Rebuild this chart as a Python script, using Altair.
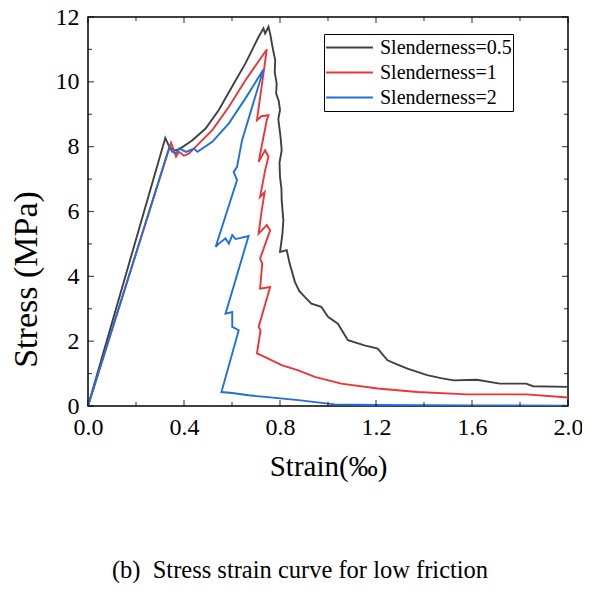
import altair as alt
import pandas as pd

# ---- data ----
black_strain = [0, 0.322, 0.339, 0.360, 0.380, 0.435, 0.490, 0.545, 0.600, 0.656, 0.711, 0.731, 0.738, 0.752,
                0.760, 0.766, 0.772, 0.780, 0.778, 0.786, 0.784, 0.795, 0.800, 0.793, 0.797, 0.803, 0.807, 0.798,
                0.800, 0.806, 0.807, 0.814, 0.810, 0.800, 0.828, 0.840, 0.862, 0.880, 0.905, 0.931, 0.972, 1.000,
                1.041, 1.083, 1.152, 1.207, 1.248, 1.290, 1.331, 1.413, 1.470, 1.524, 1.620, 1.716, 1.826, 1.854, 2.000]
black_stress = [0, 8.27, 7.99, 7.88, 7.92, 8.20, 8.56, 9.13, 9.85, 10.57, 11.39, 11.65, 11.49, 11.70,
                11.45, 11.19, 10.95, 10.67, 10.30, 9.95, 9.64, 9.40, 9.13, 8.85, 8.61, 8.25, 7.89, 7.50,
                7.07, 6.70, 6.35, 5.73, 5.30, 4.75, 4.81, 4.40, 3.83, 3.55, 3.35, 3.16, 3.06, 2.75,
                2.54, 2.03, 1.87, 1.77, 1.41, 1.28, 1.15, 0.95, 0.86, 0.79, 0.81, 0.69, 0.69, 0.61, 0.59]

red_strain = [0, 0.346, 0.367, 0.380, 0.400, 0.421, 0.463, 0.518, 0.587, 0.656, 0.745, 0.704, 0.723, 0.752,
              0.745, 0.711, 0.738, 0.752, 0.738, 0.717, 0.736, 0.724, 0.711, 0.745, 0.759, 0.717, 0.726, 0.717,
              0.759, 0.711, 0.719, 0.704, 0.738, 0.807, 0.876, 0.945, 1.055, 1.207, 1.372, 1.579, 1.826, 2.000]
red_stress = [0, 8.12, 7.69, 7.84, 7.72, 7.79, 8.10, 8.51, 9.23, 10.05, 11.00, 8.82, 8.94, 8.97,
              8.82, 7.53, 7.89, 7.69, 7.27, 6.45, 6.60, 6.04, 5.32, 5.58, 5.42, 4.55, 4.40, 3.62,
              3.67, 2.44, 2.34, 1.62, 1.51, 1.26, 1.10, 0.90, 0.69, 0.54, 0.43, 0.36, 0.36, 0.26]

blue_strain = [0, 0.339, 0.350, 0.367, 0.380, 0.408, 0.442, 0.456, 0.518, 0.587, 0.656, 0.731, 0.642, 0.621,
               0.607, 0.621, 0.532, 0.545, 0.573, 0.587, 0.601, 0.615, 0.669, 0.573, 0.601, 0.601, 0.628,
               0.556, 0.601, 0.669, 0.738, 0.876, 1.028, 1.200, 1.600, 2.000]
blue_stress = [0, 7.99, 7.85, 7.79, 7.95, 7.84, 7.94, 7.84, 8.15, 8.72, 9.49, 10.38, 8.20, 7.38,
               7.22, 6.97, 4.91, 5.01, 5.17, 5.01, 5.27, 5.15, 5.24, 2.85, 2.90, 2.44, 2.34,
               0.43, 0.40, 0.33, 0.28, 0.18, 0.05, 0.03, 0.02, 0.01]

series_names = ["Slenderness=0.5", "Slenderness=1", "Slenderness=2"]
series_colors = ["#404040", "#EE3535", "#1F6FDF"]

x_major = [0.0, 0.4, 0.8, 1.2, 1.6, 2.0]
x_minor = [0.2, 0.6, 1.0, 1.4, 1.8]
y_major = [0, 2, 4, 6, 8, 10, 12]
y_minor = [1, 3, 5, 7, 9, 11]

caption = "(b)\u00a0\u00a0Stress strain curve for low friction"

# ---- build tables ----
rows = []
for name, xs, ys in zip(series_names,
                        [black_strain, red_strain, blue_strain],
                        [black_stress, red_stress, blue_stress]):
    for i, (a, b) in enumerate(zip(xs, ys)):
        rows.append({"strain": a, "stress": b, "series": name, "i": i})
df = pd.DataFrame(rows)

W, H = 480, 389
FONT = "Liberation Serif"

xscale = alt.Scale(domain=[0, 2], nice=False, zero=False)
yscale = alt.Scale(domain=[0, 12], nice=False, zero=False)

xaxis = alt.Axis(values=x_major, format=".1f", ticks=False, domain=False, grid=False,
                 labelFlush=False, labelOverlap=False, labelPadding=9, labelFontSize=24,
                 title="Strain(‰)", titleFontSize=29, titlePadding=13)
yaxis = alt.Axis(values=y_major, format="d", ticks=False, domain=False, grid=False,
                 labelOverlap=False, labelPadding=9, labelFontSize=24,
                 title="Stress (MPa)", titleFontSize=34, titleX=-45, titleY=262)

lines = alt.Chart(df).mark_line(strokeWidth=1.9, clip=True).encode(
    x=alt.X("strain:Q", scale=xscale, axis=xaxis),
    y=alt.Y("stress:Q", scale=yscale, axis=yaxis),
    color=alt.Color("series:N",
                    scale=alt.Scale(domain=series_names, range=series_colors),
                    legend=alt.Legend(title=None, orient="none", legendX=236, legendY=17,
                                      strokeColor="black", fillColor="white", padding=1,
                                      symbolType="stroke", symbolSize=2200, symbolStrokeWidth=2,
                                      labelFont=FONT, labelFontSize=20, labelColor="black",
                                      labelOffset=6, clipHeight=25, rowPadding=0)),
    order="i:Q",
)


def tick_layer(values, channel, pos, size):
    if channel == "x":
        d = pd.DataFrame({"strain": values})
        enc = dict(x=alt.X("strain:Q", scale=xscale, axis=xaxis), y=alt.value(pos))
    else:
        d = pd.DataFrame({"stress": values})
        enc = dict(y=alt.Y("stress:Q", scale=yscale, axis=yaxis), x=alt.value(pos))
    return alt.Chart(d).mark_tick(color="black", thickness=1.2, size=size).encode(**enc)


ticks = [
    tick_layer(x_major, "x", H - 3, 6), tick_layer(x_minor, "x", H - 2, 4),
    tick_layer(x_major, "x", 3, 6), tick_layer(x_minor, "x", 2, 4),
    tick_layer(y_major, "y", 3, 6), tick_layer(y_minor, "y", 2, 4),
    tick_layer(y_major, "y", W - 3, 6), tick_layer(y_minor, "y", W - 2, 4),
]

chart = alt.layer(lines, *ticks).properties(
    width=W, height=H,
    autosize=alt.AutoSizeParams(type="none"),
    padding={"left": 80, "top": 9, "right": 14, "bottom": 177},
    title=alt.TitleParams(caption, orient="bottom", anchor="middle", offset=78, dx=-28,
                          fontSize=24.5, font=FONT, fontWeight="normal", color="black"),
).configure(
    font=FONT,
).configure_view(
    stroke="black", strokeWidth=1.5,
).configure_axis(
    labelFont=FONT, titleFont=FONT, labelColor="black", titleColor="black",
    titleFontWeight="normal",
).configure_legend(
    labelFont=FONT,
)

chart.save("out.html", embed_options={"renderer": "svg", "actions": False})
